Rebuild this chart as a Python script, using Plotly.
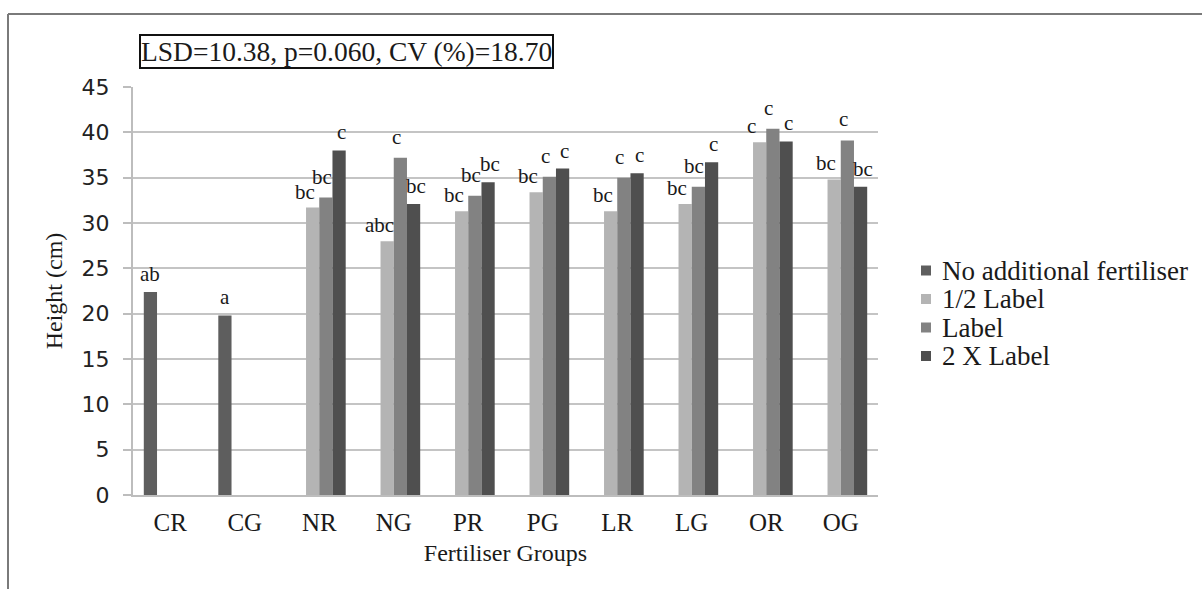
import plotly.graph_objects as go

categories = ["CR", "CG", "NR", "NG", "PR", "PG", "LR", "LG", "OR", "OG"]
series_names = ["No additional fertiliser", "1/2 Label", "Label", "2 X Label"]
no_additional = [22.4, 19.8, None, None, None, None, None, None, None, None]
half_label = [None, None, 31.7, 28.0, 31.3, 33.4, 31.3, 32.1, 38.9, 34.8]
label = [None, None, 32.8, 37.2, 33.0, 35.1, 35.0, 34.0, 40.4, 39.1]
double_label = [None, None, 38.0, 32.1, 34.5, 36.0, 35.5, 36.7, 39.0, 34.0]

letters_no_additional = ["ab", "a", "", "", "", "", "", "", "", ""]
letters_half = ["", "", "bc", "abc", "bc", "bc", "bc", "bc", "c", "bc"]
letters_label = ["", "", "bc", "c", "bc", "c", "c", "bc", "c", "c"]
letters_double = ["", "", "c", "bc", "bc", "c", "c", "c", "c", "bc"]

y_ticks = [0, 5, 10, 15, 20, 25, 30, 35, 40, 45]
stats_text = "LSD=10.38, p=0.060, CV (%)=18.70"
x_title = "Fertiliser Groups"
y_title = "Height (cm)"

colors = ["#5e5e5e", "#b4b4b4", "#828282", "#4f4f4f"]
serif = "Liberation Serif, Times New Roman, serif"
sans = "DejaVu Sans, sans-serif"
text_col = "#1a1a1a"

W, H = 1202, 589
L, R, T, B = 133, 1202 - 878, 87, 589 - 495
pw, ph = W - L - R, H - T - B
BARGAP = 0.29


def px(x):
    return (x - L) / pw


def py(y):
    return (H - B - y) / ph


all_vals = [no_additional, half_label, label, double_label]
all_letters = [letters_no_additional, letters_half, letters_label, letters_double]

fig = go.Figure()
for name, vals, col in zip(series_names, all_vals, colors):
    fig.add_trace(go.Bar(
        name=name, x=categories, y=vals,
        marker=dict(color=col, line=dict(width=0)),
        showlegend=False,
    ))

annotations = [dict(
    text=stats_text, xref="paper", yref="paper",
    x=px(139), y=py(34), xanchor="left", yanchor="top",
    showarrow=False, font=dict(family=serif, size=27.5, color=text_col),
    bordercolor="#111111", borderwidth=2, borderpad=0, bgcolor="white",
)]

# significance letters above each bar (like Excel data labels)
slot_px = pw / len(categories) * (1 - BARGAP) / len(series_names)
label_nudge_x = [0, -8, -4, 2]
label_gap_y = [5, 3, 8, 5]
for si, (vals, letters) in enumerate(zip(all_vals, all_letters)):
    for cat, v, t in zip(categories, vals, letters):
        if v is None or not t:
            continue
        annotations.append(dict(
            text=t, x=cat, y=v, xref="x", yref="y",
            xshift=(si - 1.5) * slot_px + label_nudge_x[si], yshift=label_gap_y[si],
            xanchor="center", yanchor="bottom", showarrow=False,
            font=dict(family=serif, size=21, color=text_col),
            borderpad=0,
        ))

shapes = [
    dict(type="line", xref="paper", yref="paper", x0=px(8), y0=py(14), x1=px(1210), y1=py(14),
         line=dict(color="#7a7a7a", width=2)),
    dict(type="line", xref="paper", yref="paper", x0=px(8), y0=py(14), x1=px(8), y1=py(600),
         line=dict(color="#7a7a7a", width=2)),
]

# legend (text entries with colour squares)
row0, row_gap = 270.5, 28.5
for i, (name, col) in enumerate(zip(series_names, colors)):
    yc = row0 + i * row_gap
    shapes.append(dict(type="rect", xref="paper", yref="paper",
                       x0=px(921), x1=px(931), y0=py(yc - 5), y1=py(yc + 5),
                       fillcolor=col, line=dict(width=0)))
    annotations.append(dict(text=name, xref="paper", yref="paper",
                            x=px(940), y=py(yc), xanchor="left", yanchor="middle",
                            showarrow=False, font=dict(family=serif, size=27, color=text_col)))

fig.update_layout(
    width=W, height=H,
    margin=dict(l=L, r=R, t=T, b=B, autoexpand=False),
    paper_bgcolor="white", plot_bgcolor="white",
    barmode="group", bargap=BARGAP, bargroupgap=0,
    showlegend=False,
    xaxis=dict(
        title=dict(text=x_title, font=dict(family=serif, size=24, color=text_col), standoff=9),
        tickfont=dict(family=serif, size=25, color=text_col),
        ticklabelstandoff=4,
        showline=True, linecolor="#bdbdbd", linewidth=2,
        ticks="", showgrid=False,
    ),
    yaxis=dict(
        title=dict(text=y_title, font=dict(family=serif, size=24, color=text_col), standoff=12),
        range=[0, 45], tickvals=y_ticks, ticktext=[str(v) for v in y_ticks],
        tickfont=dict(family=sans, size=22, color="#222222"),
        ticks="outside", ticklen=8, tickcolor="#bdbdbd", tickwidth=2,
        ticklabelstandoff=9,
        showline=True, linecolor="#bdbdbd", linewidth=2,
        showgrid=True, gridcolor="#c4c4c4", gridwidth=2,
        zeroline=False,
    ),
    annotations=annotations,
    shapes=shapes,
)

fig.write_html("out.html")
